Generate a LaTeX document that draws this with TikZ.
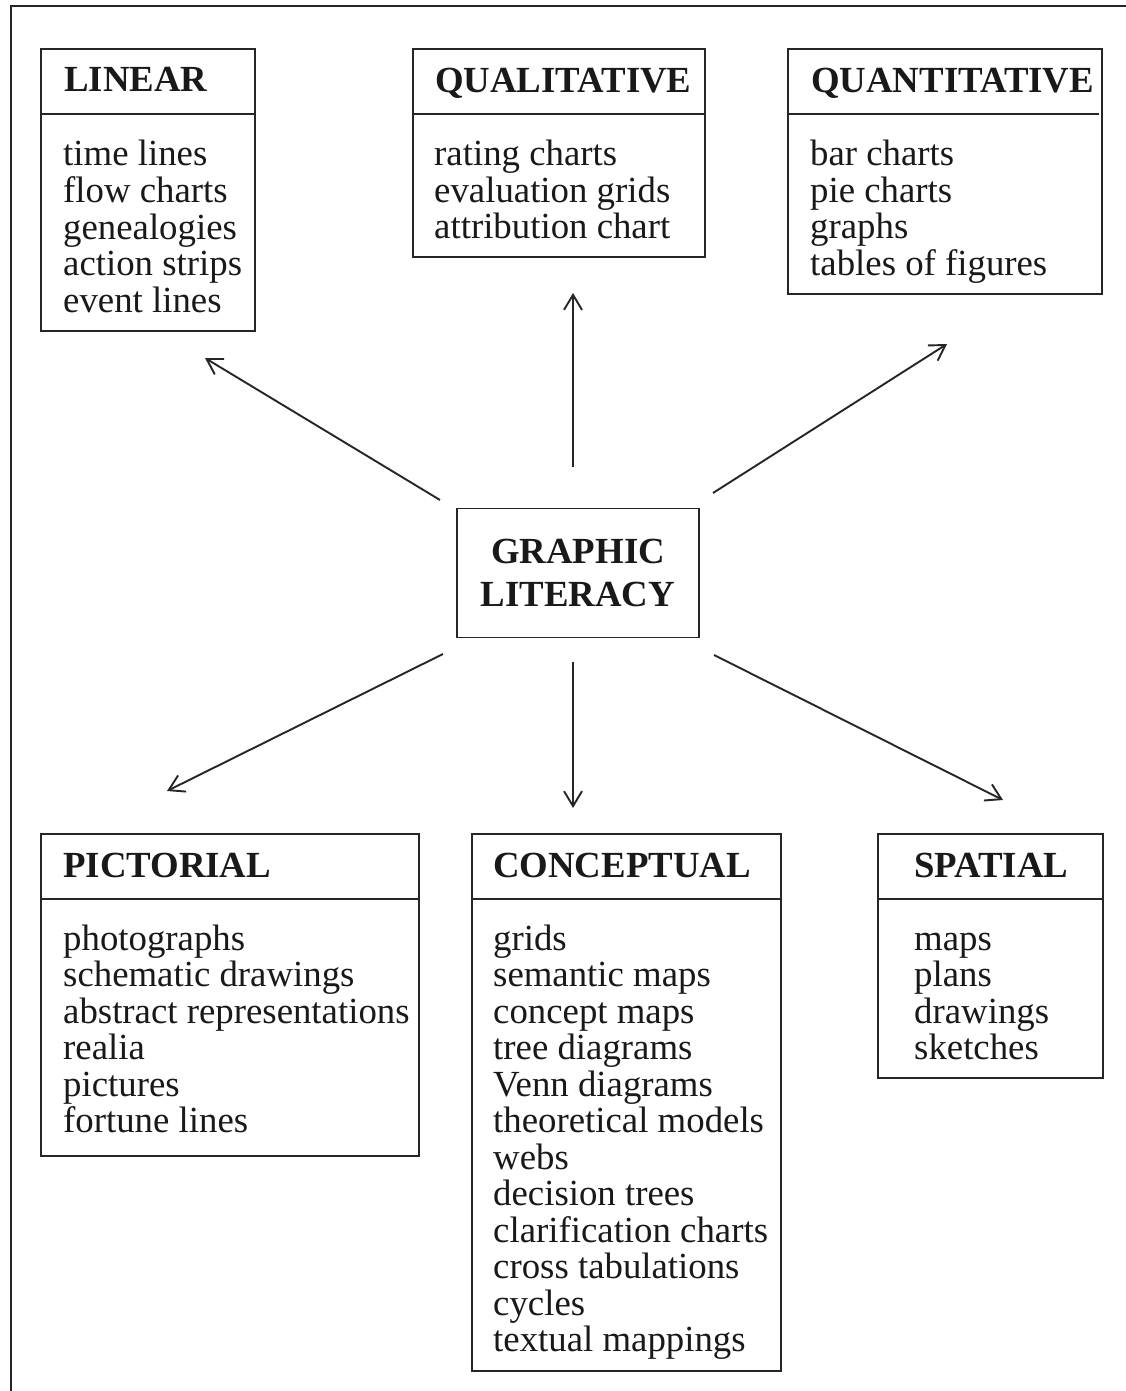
\documentclass[tikz,border=0pt]{standalone}
\usepackage{fontspec}
\setmainfont{Liberation Serif}
\usetikzlibrary{arrows.meta}
\begin{document}
\begin{tikzpicture}[x=1pt,y=-1pt,
  ink/.style={draw=black!85, line width=1.9pt},
  panel/.style={ink, rectangle, inner sep=0pt, anchor=north west},
  headtxt/.style={inner sep=0pt, anchor=base west, text=black!90,
    font=\fontsize{36.8}{36.5}\selectfont\bfseries},
  listtxt/.style={inner sep=0pt, anchor=base west, text=black!90,
    font=\fontsize{36.8}{36.5}\selectfont},
  link/.style={draw=black!85, line width=1.9pt,
    -{Straight Barb[length=15pt,width=18pt]}}
]
\useasboundingbox (0,0) rectangle (1126,1391);
\fill[white] (0,0) rectangle (1126,1391);

% page frame (top and left rules)
\coordinate (frame-a) at (1126,6);
\coordinate (frame-b) at (11,6);
\coordinate (frame-c) at (11,1391);
\draw[ink] (frame-a) -- (frame-b) -- (frame-c);

% centre box
\node[ink, rectangle, inner sep=0pt, minimum width=242pt, minimum height=129pt,
  align=center, text=black!90, font=\fontsize{36.8}{43}\selectfont\bfseries]
  (core) at (578,573) {GRAPHIC\\LITERACY};

% LINEAR
\node[panel, minimum width=214pt, minimum height=282pt] (linear) at (40,48) {};
\draw[ink] ([yshift=-66pt]linear.north west) -- ([yshift=-66pt]linear.north east);
\node[headtxt] (linear-head) at (64,92) {LINEAR};
\node[listtxt] (linear-list) at (63,166) {\begin{tabular}[t]{@{}l@{}}
  time lines\\flow charts\\genealogies\\action strips\\event lines\end{tabular}};

% QUALITATIVE
\node[panel, minimum width=292pt, minimum height=208pt] (quali) at (412,48) {};
\draw[ink] ([yshift=-66pt]quali.north west) -- ([yshift=-66pt]quali.north east);
\node[headtxt] (quali-head) at (435,93) {QUALITATIVE};
\node[listtxt] (quali-list) at (434,166) {\begin{tabular}[t]{@{}l@{}}
  rating charts\\evaluation grids\\attribution chart\end{tabular}};

% QUANTITATIVE
\node[panel, minimum width=314pt, minimum height=245pt] (quanti) at (787,48) {};
\draw[ink] ([yshift=-66pt]quanti.north west) -- ([yshift=-66pt,xshift=-4pt]quanti.north east);
\node[headtxt] (quanti-head) at (811,93) {QUANTITATIVE};
\node[listtxt] (quanti-list) at (810,166) {\begin{tabular}[t]{@{}l@{}}
  bar charts\\pie charts\\graphs\\tables of figures\end{tabular}};

% PICTORIAL
\node[panel, minimum width=378pt, minimum height=322pt] (picto) at (40,833) {};
\draw[ink] ([yshift=-66pt]picto.north west) -- ([yshift=-66pt]picto.north east);
\node[headtxt] (picto-head) at (63,877) {PICTORIAL};
\node[listtxt] (picto-list) at (63,950) {\begin{tabular}[t]{@{}l@{}}
  photographs\\schematic drawings\\abstract representations\\realia\\pictures\\fortune lines\end{tabular}};

% CONCEPTUAL
\node[panel, minimum width=309pt, minimum height=537pt] (concept) at (471,833) {};
\draw[ink] ([yshift=-66pt]concept.north west) -- ([yshift=-66pt]concept.north east);
\node[headtxt] (concept-head) at (493,877) {CONCEPTUAL};
\node[listtxt] (concept-list) at (493,950) {\begin{tabular}[t]{@{}l@{}}
  grids\\semantic maps\\concept maps\\tree diagrams\\Venn diagrams\\theoretical models\\webs\\decision trees\\clarification charts\\cross tabulations\\cycles\\textual mappings\end{tabular}};

% SPATIAL
\node[panel, minimum width=225pt, minimum height=244pt] (spatial) at (877,833) {};
\draw[ink] ([yshift=-66pt]spatial.north west) -- ([yshift=-66pt]spatial.north east);
\node[headtxt] (spatial-head) at (914,877) {SPATIAL};
\node[listtxt] (spatial-list) at (914,950) {\begin{tabular}[t]{@{}l@{}}
  maps\\plans\\drawings\\sketches\end{tabular}};

% arrow ends
\coordinate (up-s) at (573,467);   \coordinate (up-e) at (573,293);
\coordinate (dn-s) at (573,662);   \coordinate (dn-e) at (573,808);
\coordinate (ul-s) at (440,500);   \coordinate (ul-e) at (205,358);
\coordinate (ur-s) at (713,493);   \coordinate (ur-e) at (947,344);
\coordinate (ll-s) at (443,654);   \coordinate (ll-e) at (167,791);
\coordinate (lr-s) at (714,655);   \coordinate (lr-e) at (1003,800);

\draw[link] (up-s) -- (up-e);
\draw[link] (dn-s) -- (dn-e);
\draw[link] (ul-s) -- (ul-e);
\draw[link] (ur-s) -- (ur-e);
\draw[link] (ll-s) -- (ll-e);
\draw[link] (lr-s) -- (lr-e);
\end{tikzpicture}
\end{document}
